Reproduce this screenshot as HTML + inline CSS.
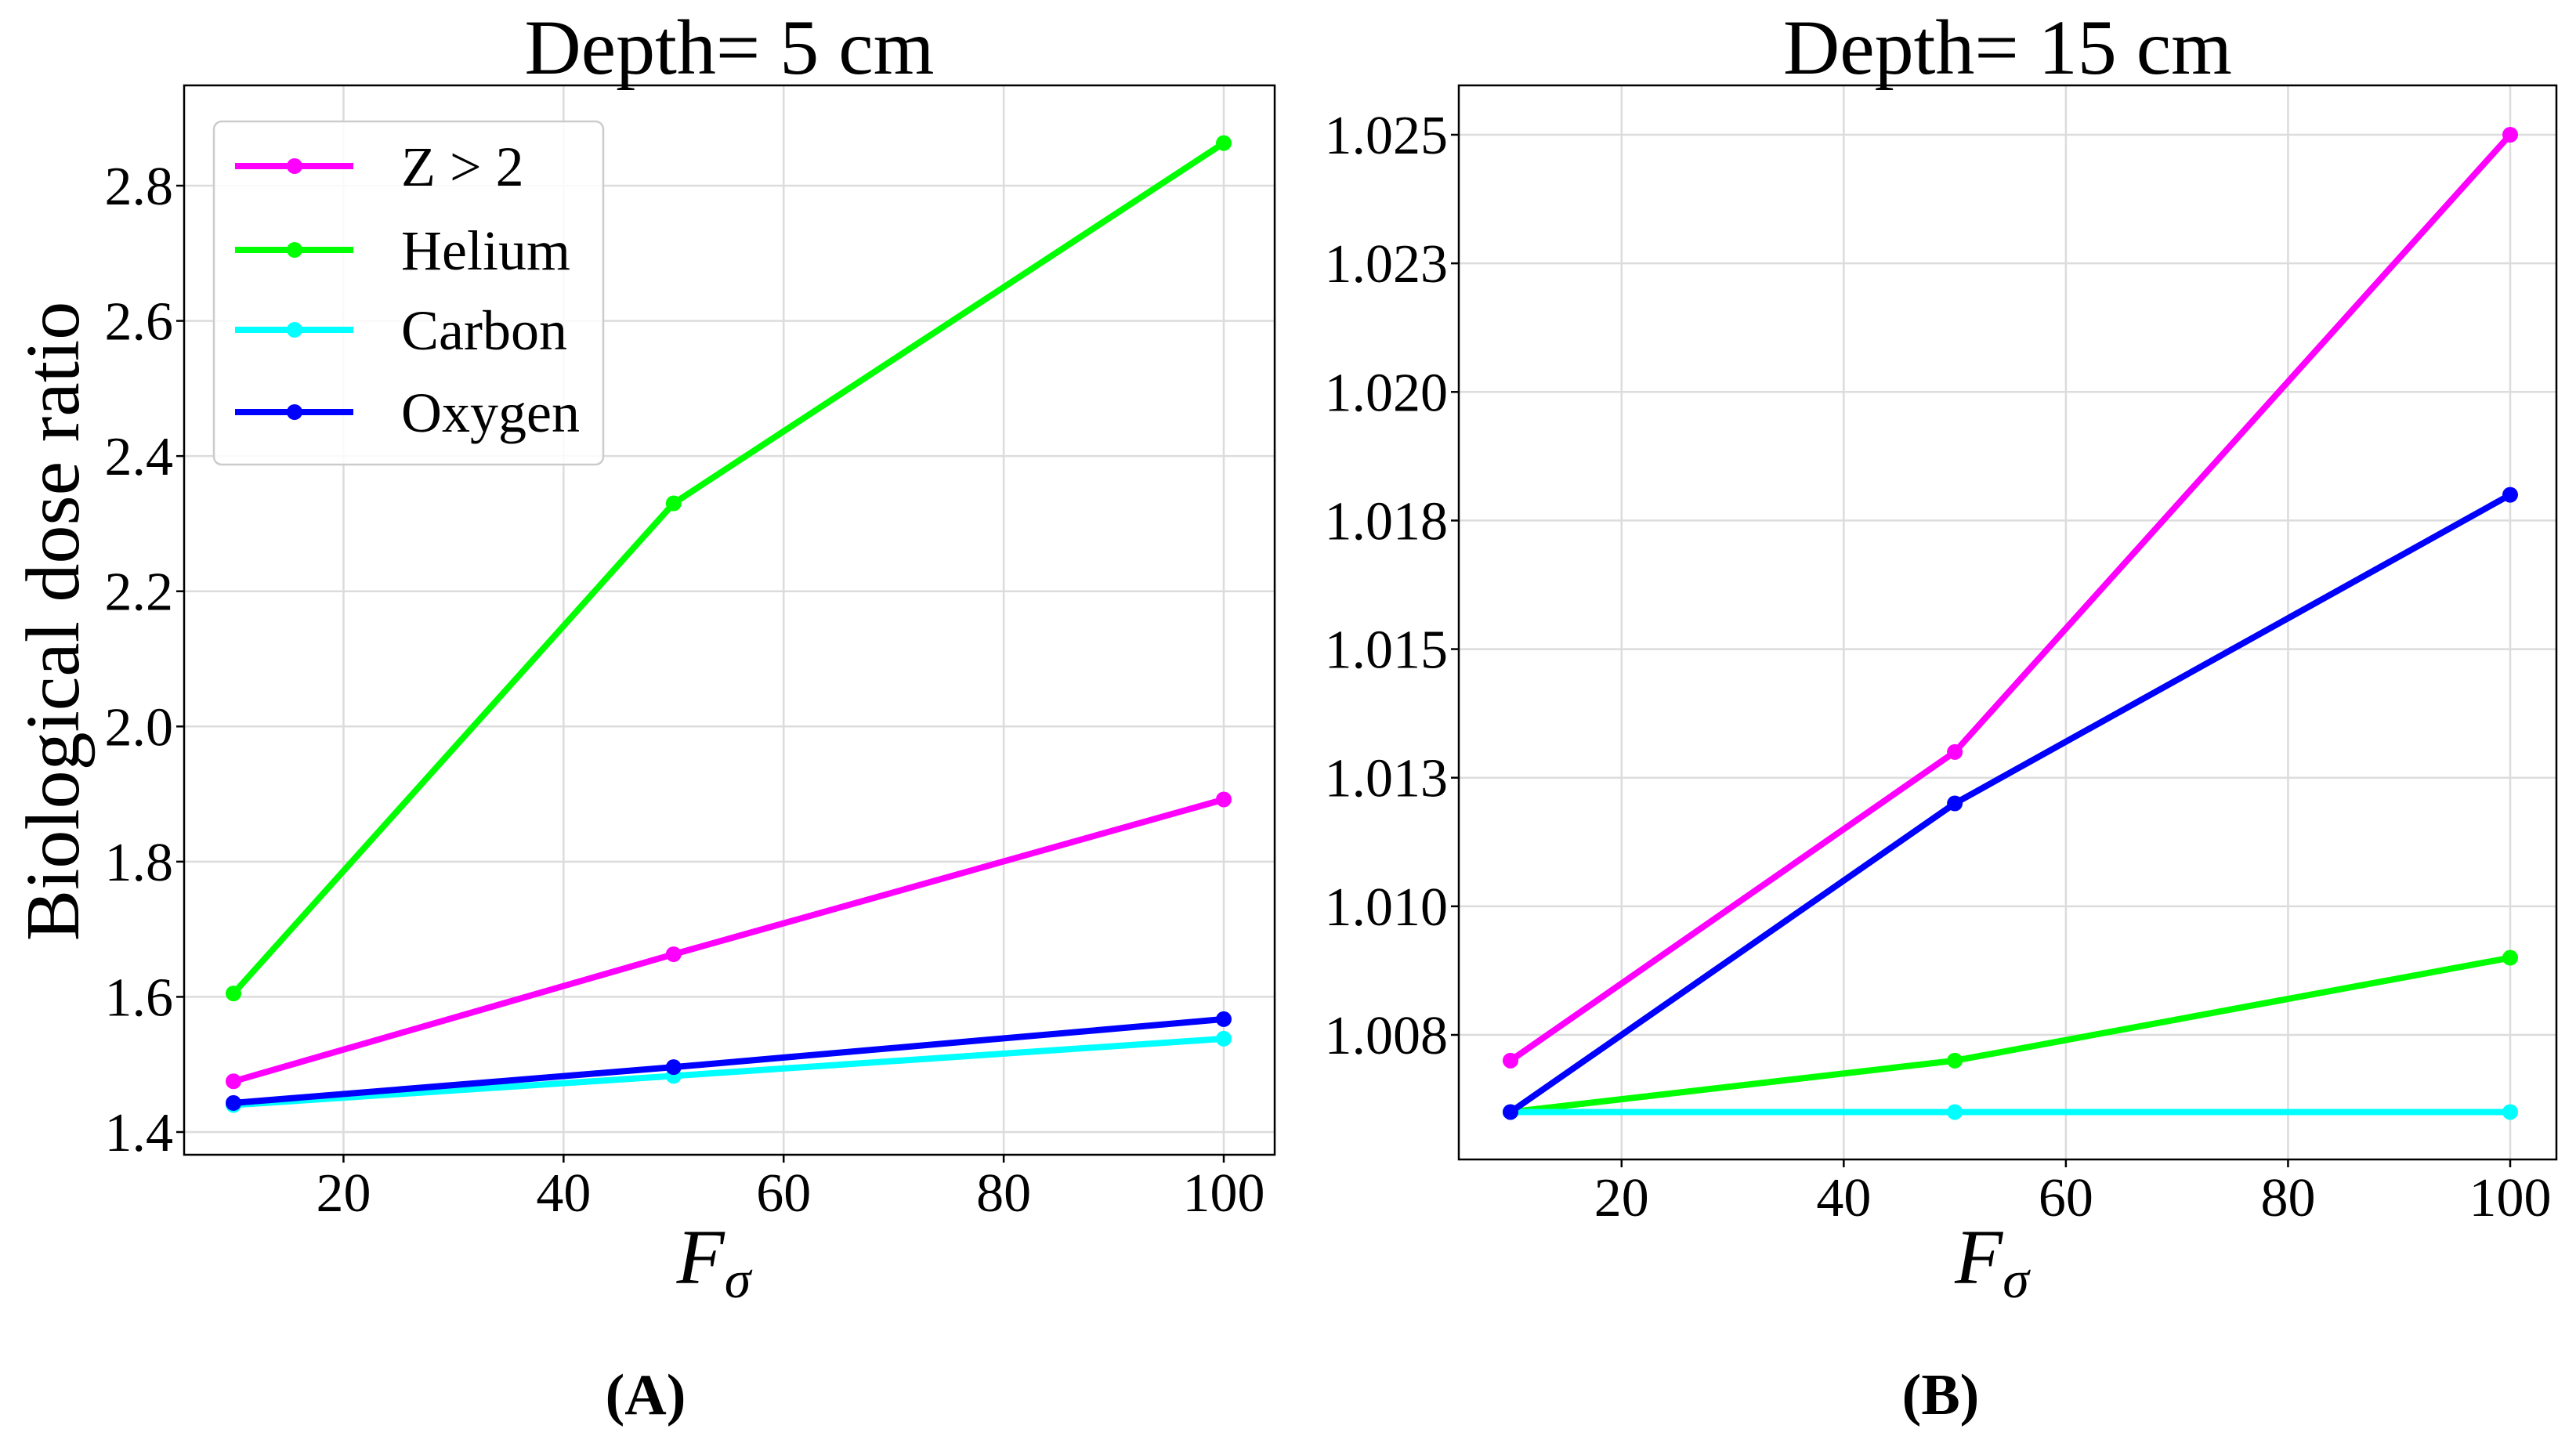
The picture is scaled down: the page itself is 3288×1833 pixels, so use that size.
<!DOCTYPE html>
<html><head><meta charset="utf-8"><style>
html,body{margin:0;padding:0;background:#fff;}
svg{display:block;font-family:"Liberation Serif","DejaVu Serif",serif;}
</style></head><body>
<svg id="fig" width="3288" height="1833" viewBox="0 0 3288 1833" xmlns="http://www.w3.org/2000/svg"></svg>
<script>
const xValues = [10, 50, 100];
const xTicks = [20, 40, 60, 80, 100];
const seriesNames = ["Z > 2", "Helium", "Carbon", "Oxygen"];
const seriesColors = ["#ff00ff", "#00ff00", "#00ffff", "#0000ff"];
const leftZ = [1.475, 1.663, 1.892];
const leftHelium = [1.605, 2.330, 2.863];
const leftCarbon = [1.440, 1.483, 1.538];
const leftOxygen = [1.443, 1.496, 1.567];
const leftYTicks = [1.4, 1.6, 1.8, 2.0, 2.2, 2.4, 2.6, 2.8];
const leftYTickLabels = ["1.4","1.6","1.8","2.0","2.2","2.4","2.6","2.8"];
const rightZ = [1.0070, 1.0130, 1.0250];
const rightHelium = [1.0060, 1.0070, 1.0090];
const rightCarbon = [1.0060, 1.0060, 1.0060];
const rightOxygen = [1.0060, 1.0120, 1.0180];
const rightYTicks = [1.0075, 1.0100, 1.0125, 1.0150, 1.0175, 1.0200, 1.0225, 1.0250];
const rightYTickLabels = ["1.008","1.010","1.013","1.015","1.018","1.020","1.023","1.025"];

const NS = "http://www.w3.org/2000/svg";
const svg = document.getElementById('fig');
function mk(tag, attrs, parent){const e=document.createElementNS(NS,tag);for(const k in attrs)e.setAttribute(k,attrs[k]);(parent||svg).appendChild(e);return e;}

function panel(cfg){
  const g = mk('g',{});
  
  
  const xs = v => cfg.x10 + (v-10)*(cfg.x100-cfg.x10)/90;
  const ys = v => cfg.yA + (v-cfg.vA)*(cfg.yB-cfg.yA)/(cfg.vB-cfg.vA);
  xTicks.forEach(t=>{const l=mk('line',{x1:xs(t),x2:xs(t),y1:cfg.top,y2:cfg.bottom,stroke:'#dcdcdc','stroke-width':2.5},g);
    });
  cfg.yTicks.forEach(t=>{const l=mk('line',{x1:cfg.left,x2:cfg.right,y1:ys(t),y2:ys(t),stroke:'#dcdcdc','stroke-width':2.5},g);
    });
  cfg.series.forEach((s,i)=>{
    const pts = xValues.map((x,j)=>xs(x)+','+ys(s[j])).join(' ');
    const pl = mk('polyline',{points:pts,fill:'none',stroke:seriesColors[i],'stroke-width':8,'stroke-linejoin':'round'},g);
    
    
    xValues.forEach((x,j)=>{const c=mk('circle',{cx:xs(x),cy:ys(s[j]),r:10,fill:seriesColors[i]},g);
      });
  });
  const f=mk('rect',{x:cfg.left,y:cfg.top,width:cfg.right-cfg.left,height:cfg.bottom-cfg.top,fill:'none',stroke:'#000','stroke-width':2.5},g);
  
  xTicks.forEach(t=>{mk('line',{x1:xs(t),x2:xs(t),y1:cfg.bottom,y2:cfg.bottom+10,stroke:'#000','stroke-width':2.5},g);
    const tx=mk('text',{x:xs(t),y:cfg.bottom+72,'font-size':70,'text-anchor':'middle'},g);tx.textContent=t;
    });
  cfg.yTicks.forEach((t,i)=>{mk('line',{x1:cfg.left-10,x2:cfg.left,y1:ys(t),y2:ys(t),stroke:'#000','stroke-width':2.5},g);
    const tx=mk('text',{x:cfg.left-14,y:ys(t)+24,'font-size':70,'text-anchor':'end'},g);tx.textContent=cfg.yLabels[i];
    });
  const cx=(cfg.left+cfg.right)/2;
  const ti=mk('text',{x:cx,y:94,'font-size':100,'text-anchor':'middle'},g);ti.textContent=cfg.title;
  
  const xl=mk('text',{x:cx-20,y:1638,'font-size':100,'font-style':'italic','text-anchor':'middle'},g);
  
  xl.appendChild(document.createTextNode('F'));
  const sub=mk('tspan',{'font-size':68,dy:18},xl);sub.textContent='σ';
  const pl=mk('text',{x:cfg.panelX,y:1805,'font-size':74,'font-weight':'bold','text-anchor':'middle'},g);pl.textContent=cfg.panelLabel;
  
}

panel({name:'panel-a',left:235,right:1627,top:109,bottom:1474,x10:298,x100:1562,vA:1.4,yA:1445,vB:2.8,yB:237,
  yTicks:leftYTicks,yLabels:leftYTickLabels,series:[leftZ,leftHelium,leftCarbon,leftOxygen],title:'Depth= 5 cm',panelLabel:'(A)',panelX:824});
panel({name:'panel-b',left:1862,right:3263,top:109,bottom:1480,x10:1928,x100:3204,vA:1.0075,yA:1321,vB:1.025,yB:172,
  yTicks:rightYTicks,yLabels:rightYTickLabels,series:[rightZ,rightHelium,rightCarbon,rightOxygen],title:'Depth= 15 cm',panelLabel:'(B)',panelX:2477});

const yl=mk('text',{x:0,y:0,'font-size':98,'text-anchor':'middle',transform:'translate(100,793) rotate(-90)'});
yl.textContent='Biological dose ratio';



const lg=mk('g',{});


mk('rect',{x:273,y:155,width:497,height:438,rx:10,fill:'#fff','fill-opacity':0.85,stroke:'#cccccc','stroke-width':2.5},lg);
const rows=[212,319,421,526];
seriesNames.forEach((n,i)=>{
  const e=mk('g',{},lg);
  
  
  mk('line',{x1:300,x2:451,y1:rows[i],y2:rows[i],stroke:seriesColors[i],'stroke-width':8},e);
  mk('circle',{cx:376,cy:rows[i],r:10,fill:seriesColors[i]},e);
  const t=mk('text',{x:512,y:rows[i]+25,'font-size':72},e);t.textContent=n;
});
</script>
</body></html>
